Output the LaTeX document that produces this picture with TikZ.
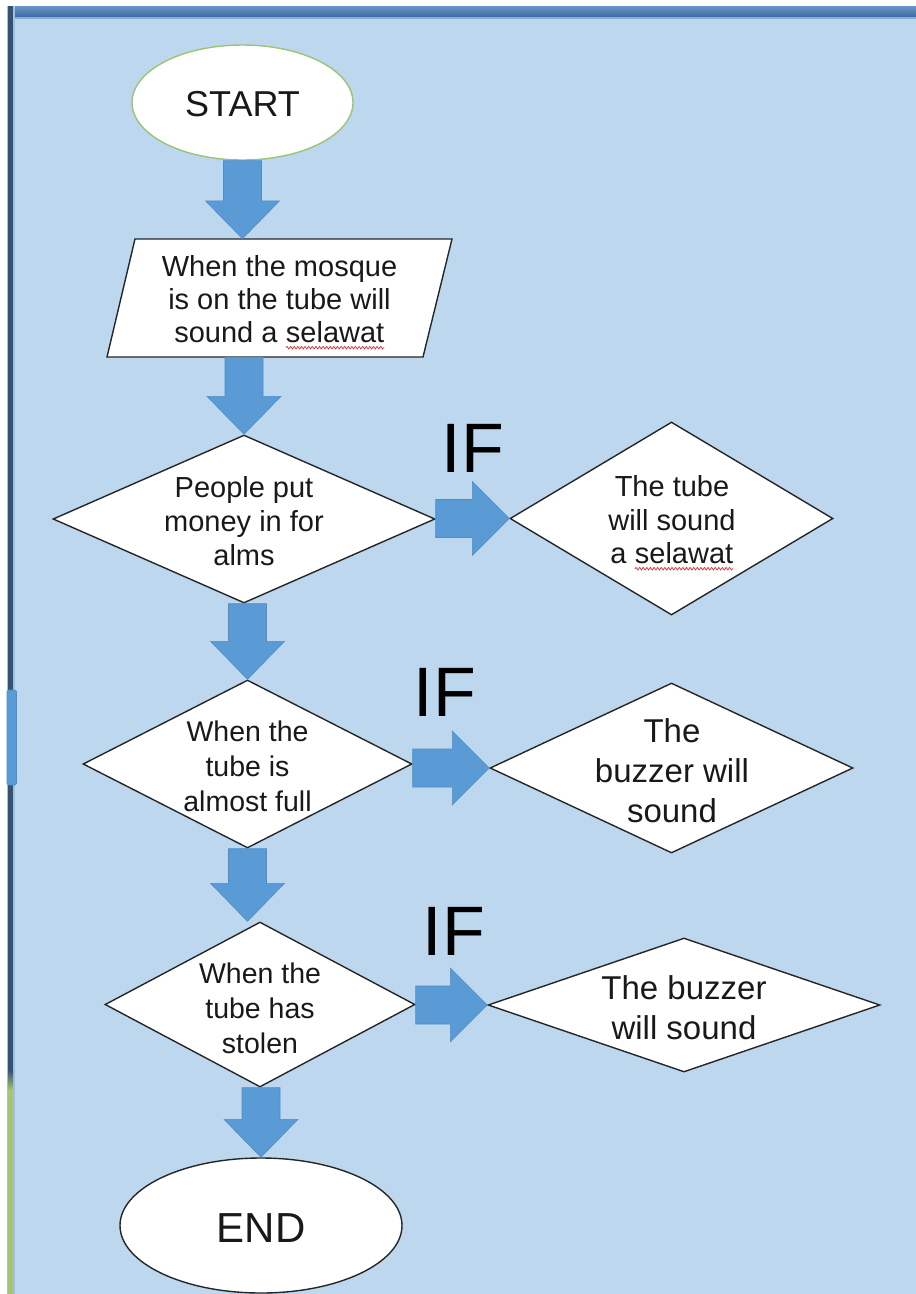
\documentclass[tikz,border=0pt]{standalone}
\usepackage{fontspec}
\setmainfont{Liberation Sans}
\usetikzlibrary{shapes.geometric,calc,decorations.pathmorphing}

\definecolor{pagebg}{HTML}{BDD7EE}
\definecolor{flowblue}{HTML}{5B9BD5}
\definecolor{flowedge}{HTML}{4F8DC8}
\definecolor{startgreen}{HTML}{9CC474}
\definecolor{barhi}{HTML}{6B95CA}
\definecolor{barlo}{HTML}{3B69A0}
\definecolor{barline}{HTML}{86ACD8}
\definecolor{edgedark}{HTML}{35536F}
\definecolor{edgegreen}{HTML}{A9C46C}
\definecolor{edgelight}{HTML}{9CC2E6}
\definecolor{wavered}{HTML}{E03030}

% word with a red wavy spell-check underline (#1 = name, #2 = word)
\newcommand\redwave[2]{\tikz[baseline=(#1.base)]{%
  \node[inner sep=0pt, outer sep=0pt, minimum width=0pt, minimum height=0pt,
        anchor=base] (#1) at (0,0) {#2};
  \draw[wavered, line width=0.7pt, decorate,
        decoration={snake, amplitude=1.3pt, segment length=3.6pt}]
    ([yshift=-5pt]#1.base west) -- ([yshift=-5pt]#1.base east);}}

\newcommand\fs[2]{\fontsize{#1}{#2}\selectfont}

% vertical block arrow: shaft starts at #1, tip at #2
\newcommand\blockdown[2]{%
  \filldraw[blockarrow] let \p1=(#1), \p2=(#2) in
    (\x2-19pt,\y1) -- (\x2+19pt,\y1) -- (\x2+19pt,\y2+38pt) -- (\x2+37pt,\y2+38pt)
    -- (\x2,\y2) -- (\x2-37pt,\y2+38pt) -- (\x2-19pt,\y2+38pt) -- cycle;}
% horizontal block arrow: shaft starts at #1, tip at #2
\newcommand\blockright[2]{%
  \filldraw[blockarrow] let \p1=(#1), \p2=(#2) in
    (\x1,\y2+19pt) -- (\x2-37pt,\y2+19pt) -- (\x2-37pt,\y2+37pt) -- (\x2,\y2)
    -- (\x2-37pt,\y2-37pt) -- (\x2-37pt,\y2-19pt) -- (\x1,\y2-19pt) -- cycle;}

\begin{document}
\begin{tikzpicture}[x=1pt,y=-1pt,
  shapeline/.style={draw=black!85, line width=1.4pt, fill=white},
  dia/.style={diamond, shapeline, inner sep=0pt},
  txt/.style={align=center, inner sep=0pt, text=black!90},
  blockarrow/.style={fill=flowblue, draw=flowedge, line width=0.6pt, line join=miter},
  iflabel/.style={anchor=base, inner sep=0pt, font=\fs{70}{80}}]

\useasboundingbox (0,0) rectangle (916,1294);

% window frame and page background
\fill[white] (0,0) rectangle (916,1294);
\fill[pagebg] (13,17) rectangle (916,1294);
\shade[top color=barhi, bottom color=barlo] (7,6) rectangle (916,17);
\fill[barline] (13,17) rectangle (916,19);
\fill[edgelight] (7,6) rectangle (15,1294);
\fill[edgedark] (8,6) rectangle (13,1070);
\shade[top color=edgedark, bottom color=edgegreen] (8,1070) rectangle (13,1090);
\fill[edgegreen] (8,1090) rectangle (13,1294);
\filldraw[fill=flowblue, draw=flowedge, line width=0.6pt, rounded corners=1.5pt] (7,690) rectangle (16.5,785);

% terminal: start
\node[ellipse, draw=startgreen, line width=1.4pt, fill=white, minimum width=221, minimum height=115, inner sep=0pt]
  (start) at (242.5,102.5) {};
\node[txt, font=\fs{36}{40}] (startlbl) at (242.5,104) {START};

% input / output step
\coordinate (io-nw) at (135,239);
\coordinate (io-ne) at (452,239);
\coordinate (io-se) at (423,357);
\coordinate (io-sw) at (107,357);
\filldraw[shapeline, line join=miter] (io-nw) -- (io-ne) -- (io-se) -- (io-sw) -- cycle;
\node[inner sep=0pt, minimum width=317, minimum height=118] (io) at (279.5,298) {};
\node[txt, font=\fs{29}{33}] (iolbl) at (279.5,302.5)
  {When the mosque\\is on the tube will\\sound a \redwave{sw1}{selawat}};

% decisions on the main line
\node[dia, minimum width=382, minimum height=168] (d1) at (244,519) {};
\node[txt, font=\fs{29}{34}] (d1lbl) at (244,521) {People put\\money in for\\alms};

\node[dia, minimum width=329, minimum height=168] (d3) at (247.5,764) {};
\node[txt, font=\fs{28.5}{35}] (d3lbl) at (247.5,766) {When the\\tube is\\almost full};

\node[dia, minimum width=310, minimum height=165] (d5) at (260,1004.5) {};
\node[txt, font=\fs{28.5}{35}] (d5lbl) at (260,1008) {When the\\tube has\\stolen};

% outcomes on the right
\node[dia, minimum width=323, minimum height=193] (d2) at (671.5,518.5) {};
\node[txt, font=\fs{29}{33.5}] (d2lbl) at (672,523) {The tube\\will sound\\a \redwave{sw2}{selawat}};

\node[dia, minimum width=363, minimum height=170] (d4) at (671.5,768) {};
\node[txt, font=\fs{33}{40}] (d4lbl) at (672,771) {The\\buzzer will\\sound};

\node[dia, minimum width=392, minimum height=134] (d6) at (684,1005) {};
\node[txt, font=\fs{33}{40}] (d6lbl) at (684,1008) {The buzzer\\will sound};

% terminal: end
\node[ellipse, shapeline, minimum width=282, minimum height=135, inner sep=0pt] (end) at (261,1225.5) {};
\node[txt, font=\fs{42}{46}] (endlbl) at (261,1228) {END};

% condition labels
\node[iflabel] (if1) at (473,472) {IF};
\node[iflabel] (if2) at (445,716) {IF};
\node[iflabel] (if3) at (454,955) {IF};

% block arrows between the steps
\blockdown{start.south}{start.south |- io.north}
\blockdown{d1.north |- io.south}{d1.north}
\blockdown{d3.north |- d1.south}{d3.north}
\blockdown{d3.south}{d3.south |- d5.north}
\blockdown{d5.south}{end.north}
\blockright{d1.east}{d2.west}
\blockright{d3.east}{d4.west}
\blockright{d5.east}{d6.west}

\end{tikzpicture}
\end{document}
